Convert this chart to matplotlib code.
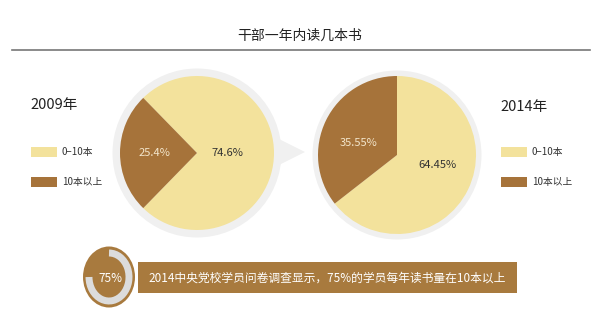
import numpy as np
import matplotlib.pyplot as plt
from matplotlib.patches import Circle, Ellipse, Arc, Rectangle, Polygon

plt.rcParams['font.family'] = ['Noto Sans CJK SC', 'DejaVu Sans']

# datos
titulo = '干部一年内读几本书'
categorias = ['0–10本', '10本以上']
anios = ['2009年', '2014年']
valores_2009 = [74.6, 25.4]
valores_2014 = [64.45, 35.55]
etiquetas_2009 = ['74.6%', '25.4%']
etiquetas_2014 = ['64.45%', '35.55%']
pct_encuesta = 75
texto_encuesta = '2014中央党校学员问卷调查显示，75%的学员每年读书量在10本以上'

amarillo = '#F3E29C'
marron = '#A6733A'
gris_anillo = '#F0F0F0'

W, H = 600, 331
fig = plt.figure(figsize=(6, 3.31), dpi=100)
ax = fig.add_axes([0, 0, 1, 1])


def Y(y):
    return H - y


# título y línea
ax.text(300, Y(36), titulo, ha='center', va='center', fontsize=10, color='#222222')
ax.plot([12, 590], [Y(50), Y(50)], color='#777777', lw=1.2)

# fondos grises de los pies
ax.add_patch(Circle((197, Y(153)), 84.5, color=gris_anillo, lw=0, zorder=0))
ax.add_patch(Polygon([(279, Y(139)), (305, Y(152)), (279, Y(165))],
                     closed=True, color=gris_anillo, lw=0, zorder=0))
ax.add_patch(Circle((397, Y(155)), 84.5, color=gris_anillo, lw=0, zorder=0))

# pie 2009
centro_izq = (197, Y(153))
w1, _ = ax.pie(valores_2009, colors=[amarillo, marron], radius=77, center=centro_izq,
               startangle=180 + valores_2009[1] * 3.6 / 2, counterclock=True,
               wedgeprops=dict(linewidth=0), frame=True)

# pie 2014
centro_der = (397, Y(155))
w2, _ = ax.pie(valores_2014, colors=[amarillo, marron], radius=79, center=centro_der,
               startangle=90, counterclock=False,
               wedgeprops=dict(linewidth=0), frame=True)

# etiquetas de porcentaje
def etiquetar(wedges, etiquetas, centro, dists, desv):
    for w, txt, d, da in zip(wedges, etiquetas, dists, desv):
        ang = np.deg2rad((w.theta1 + w.theta2) / 2 + da)
        x = centro[0] + d * np.cos(ang)
        y = centro[1] + d * np.sin(ang)
        col = '#333333' if w.get_facecolor()[0] > 0.9 else '#F3E6CC'
        ax.text(x, y, txt, ha='center', va='center', fontsize=8, color=col)


etiquetar(w1, etiquetas_2009, centro_izq, [30, 43], [0, 0])
etiquetar(w2, etiquetas_2014, centro_der, [42, 40], [12, 9])

# leyendas
def leyenda(x0, anio, y_anio):
    ax.text(x0 - 1, Y(y_anio), anio, ha='left', va='center', fontsize=10.5, color='#222222')
    for i, (cat, col) in enumerate(zip(categorias, [amarillo, marron])):
        yb = 152 + i * 30
        ax.add_patch(Rectangle((x0, Y(yb + 5)), 26, 10, color=col, lw=0))
        ax.text(x0 + 31, Y(yb), cat, ha='left', va='center', fontsize=7, color='#333333')


leyenda(31, anios[0], 105)
leyenda(501, anios[1], 107)

# banner inferior
ax.add_patch(Rectangle((138, Y(293)), 379, 31, color='#A87A3E', lw=0))
ax.text(148, Y(278), texto_encuesta, ha='left', va='center', fontsize=8.5, color='white')

ax.add_patch(Ellipse((109, Y(277)), 52, 61, color='#A87A3E', lw=0))
ax.add_patch(Arc((109, Y(277)), 40, 48, theta1=90 + 360 * (1 - pct_encuesta / 100), theta2=450,
                 color='#DCDCDC', lw=5))
ax.text(110, Y(278), f'{pct_encuesta}%', ha='center', va='center', fontsize=8.5, color='white')

ax.set_xlim(0, W)
ax.set_ylim(0, H)
ax.set_aspect('auto')
ax.axis('off')

fig.savefig('out.png', dpi=100)
